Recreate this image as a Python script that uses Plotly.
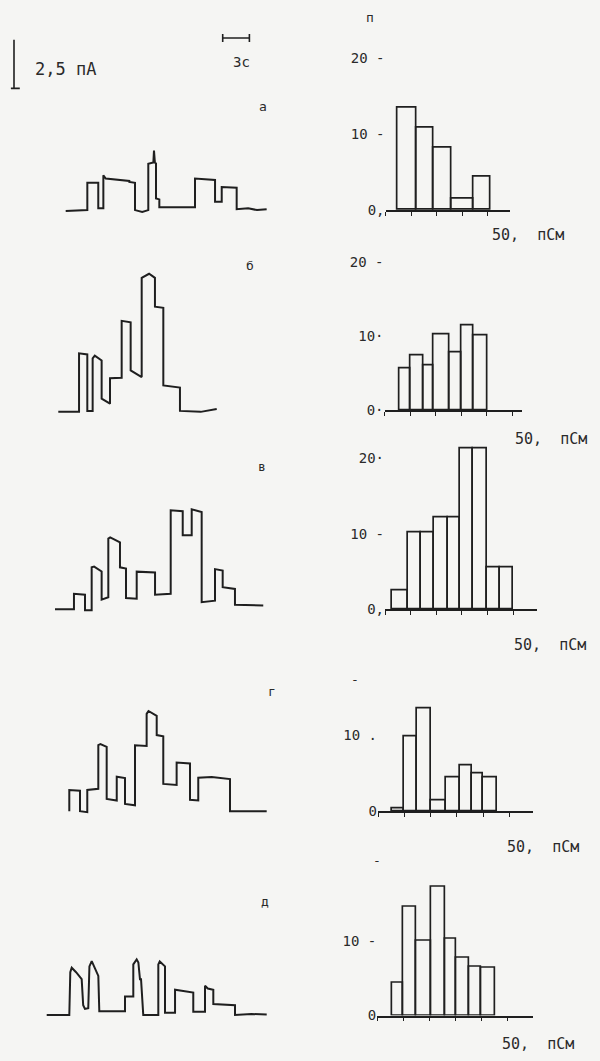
import numpy as np
import plotly.graph_objects as go

W, H = 600, 1061
PX_PER_S = 8.9      # trace time scale (px per second)
PX_PER_PA = 19.6    # trace current scale (px per pA)
LINE = "#1f1f1f"
TXT = "#2a2a2a"
FONT = "DejaVu Sans Mono"

# ---------------- data: single-channel current traces (time s, current pA) -------------
A_T = [0, 2.43, 2.43, 3.66, 3.66, 4.23, 4.23, 4.5, 7.15, 7.15, 7.79, 7.79, 8.6, 9.28, 9.28,
       9.85, 9.92, 10.02, 10.15, 10.15, 10.52, 10.52, 14.53, 14.53, 16.78, 16.78, 17.53, 17.53,
       19.21, 19.21, 20.5, 21.5, 22.58]
A_I = [-0.05, 0, 1.41, 1.41, 0.1, 0.1, 1.79, 1.62, 1.5, 1.45, 1.40, 0.0, -0.1, 0, 2.38,
       2.45, 3.06, 2.45, 2.4, 0.6, 0.55, 0.15, 0.15, 1.62, 1.55, 0.43, 0.43, 1.19,
       1.15, 0.05, 0.1, 0.0, 0.05]

B_T = [0, 2.33, 2.33, 3.26, 3.26, 3.86, 3.86, 4.1, 4.87, 4.87, 5.81, 5.81, 7.12, 7.12, 8.13,
       8.13, 9.37, 9.37, 10.2, 10.86, 10.86, 11.8, 11.8, 13.67, 13.67, 16.0, 17.8]
B_I = [0.0, 0.0, 3.01, 2.95, 0.05, 0.05, 2.75, 2.89, 2.64, 0.68, 0.42, 1.73, 1.75, 4.68, 4.6,
       2.13, 1.79, 6.89, 7.1, 6.89, 5.41, 5.35, 1.36, 1.25, 0.05, 0.0, 0.15]

C_T = [0, 2.13, 2.13, 3.37, 3.37, 4.12, 4.12, 4.4, 5.24, 5.24, 5.99, 5.99, 6.2, 7.30, 7.30,
       7.98, 7.98, 9.18, 9.18, 11.24, 11.24, 13.0, 13.0, 14.35, 14.35, 15.36, 15.36, 16.48,
       16.48, 17.98, 17.98, 18.84, 18.84, 20.22, 20.22, 23.4]
C_I = [0, 0, 0.80, 0.75, -0.05, -0.05, 2.16, 2.2, 1.95, 0.5, 0.62, 3.64, 3.7, 3.45, 2.16,
       2.1, 0.58, 0.55, 1.94, 1.9, 0.75, 0.8, 5.09, 5.05, 3.81, 3.81, 5.14, 5.0,
       0.37, 0.45, 2.07, 2.0, 1.14, 1.05, 0.24, 0.2]

D_T = [0, 0, 1.2, 1.2, 2.02, 2.02, 3.26, 3.26, 3.5, 4.2, 4.2, 5.33, 5.33, 6.26, 6.26, 7.38,
       7.38, 8.69, 8.69, 8.9, 9.82, 9.82, 10.56, 10.56, 12.06, 12.06, 13.56, 13.56, 14.49,
       14.49, 16.0, 18.06, 18.06, 22.18]
D_I = [0.05, 1.14, 1.1, 0.05, 0.0, 1.14, 1.2, 3.45, 3.5, 3.35, 0.68, 0.6, 1.82, 1.75, 0.42,
       0.35, 3.44, 3.4, 5.05, 5.2, 4.95, 3.96, 3.9, 1.45, 1.4, 2.55, 2.5, 0.63, 0.6,
       1.77, 1.8, 1.7, 0.05, 0.05]

E_T = [0, 2.54, 2.65, 2.81, 3.3, 3.93, 4.1, 4.3, 4.67, 4.8, 5.06, 5.5, 5.8, 5.91, 8.8, 8.8,
       9.73, 9.73, 10.11, 10.3, 10.48, 10.6, 10.85, 12.54, 12.54, 12.7, 13.29, 13.29, 14.42,
       14.42, 16.47, 16.47, 17.79, 17.79, 18.1, 18.72, 18.72, 21.16, 21.16, 23.0, 24.72]
E_I = [0.0, 0.0, 2.2, 2.43, 2.2, 1.84, 0.5, 0.31, 0.35, 2.5, 2.77, 2.35, 2.01, 0.19, 0.19, 0.95,
       0.95, 2.6, 2.86, 2.7, 1.84, 1.84, 0.0, 0.0, 2.6, 2.75, 2.5, 0.12, 0.12,
       1.3, 1.15, 0.16, 0.16, 1.5, 1.36, 1.3, 0.56, 0.5, 0.0, 0.05, 0.02]

# ---------------- data: conductance histograms (bin edges pS, counts n) -----------------
HA_EDGES = [4.5, 12.3, 18.9, 25.6, 34.2, 41.2]
HA_N = [13.5, 10.9, 8.2, 1.5, 4.4]
HB_EDGES = [5.7, 10.0, 15.2, 19.3, 25.2, 30.2, 34.7, 40.3]
HB_N = [5.6, 7.4, 6.1, 10.3, 7.8, 11.5, 10.1]
HC_EDGES = [2.6, 9.1, 14.1, 19.1, 24.7, 29.3, 34.5, 39.7, 44.9, 50.1]
HC_N = [2.5, 10.2, 10.2, 12.2, 12.2, 21.4, 21.4, 5.5, 5.5]
HD_EDGES = [5.2, 9.9, 14.7, 20.1, 25.9, 31.2, 35.6, 40.0, 45.1]
HD_N = [0.4, 9.8, 13.6, 1.4, 4.5, 6.0, 5.0, 4.4]
HE_EDGES = [5.9, 9.8, 14.9, 20.6, 26.0, 30.2, 35.2, 40.0, 45.1]
HE_N = [4.4, 14.6, 10.1, 17.3, 10.3, 7.8, 6.6, 6.4]

X_TICKS = [0, 10, 20, 30, 40, 50]
SCALE_PA = 2.5
SCALE_S = 3

PANELS = ["а", "б", "в", "г", "д"]


def xdom(p0, p1):
    return [p0 / W, p1 / W]


def ydom(top, bottom):
    return [1 - bottom / H, 1 - top / H]


fig = go.Figure()
layout = {}

# ---------------- traces ----------------
traces = [(A_T, A_I), (B_T, B_I), (C_T, C_I), (D_T, D_I), (E_T, E_I)]
# (start px, baseline px, top px, bottom px)
trace_geo = [(65.7, 211.7, 110, 232), (58.3, 415, 260, 432), (55, 614, 500, 632),
             (69.3, 818.3, 700, 836), (46.7, 1022.7, 940, 1040)]
for i, ((t, cur), (sx, base, top, bot)) in enumerate(zip(traces, trace_geo)):
    n = i + 1
    fig.add_trace(go.Scatter(x=t, y=cur, mode="lines", xaxis=f"x{n}", yaxis=f"y{n}",
                             line=dict(color=LINE, width=2.0), showlegend=False,
                             hoverinfo="skip", cliponaxis=False))
    layout[f"xaxis{n}"] = dict(domain=xdom(0, 300), range=[-sx / PX_PER_S, (300 - sx) / PX_PER_S],
                               visible=False, anchor=f"y{n}")
    layout[f"yaxis{n}"] = dict(domain=ydom(top, bot),
                               range=[(base - bot) / PX_PER_PA, (base - top) / PX_PER_PA],
                               visible=False, anchor=f"x{n}")

# ---------------- histograms ----------------
hists = [(HA_EDGES, HA_N), (HB_EDGES, HB_N), (HC_EDGES, HC_N), (HD_EDGES, HD_N), (HE_EDGES, HE_N)]
# (origin px, axis end px, px per pS, baseline px, px per count)
hist_geo = [(385.5, 510, 2.56, 211.7, 7.67), (384.5, 522, 2.56, 413.3, 7.45),
            (385, 537, 2.56, 614, 7.6), (378, 533, 2.63, 817.3, 7.63),
            (377.2, 533, 2.61, 1023.3, 7.5)]
tick_texts = [["0,", "10 -", "20 -"], ["0·", "10·", "20 -"], ["0,", "10 -", "20·"],
              ["0", "10 ."], ["0", "10 -"]]
for i, ((edges, counts), (ox, ex, pxs, base, pxn), tt) in enumerate(zip(hists, hist_geo, tick_texts)):
    n = i + 6
    e = np.array(edges)
    centers = (e[:-1] + e[1:]) / 2
    widths = e[1:] - e[:-1]
    fig.add_trace(go.Bar(x=centers, y=counts, width=widths, xaxis=f"x{n}", yaxis=f"y{n}",
                         marker=dict(color="rgba(255,255,255,0)", line=dict(color=LINE, width=1.7)),
                         showlegend=False, hoverinfo="skip"))
    top = base - 22 * pxn
    layout[f"xaxis{n}"] = dict(domain=xdom(ox, ex), range=[0, (ex - ox) / pxs], anchor=f"y{n}",
                               showline=True, linecolor=LINE, linewidth=1.7, ticks="outside",
                               ticklen=4, tickwidth=1.3, tickcolor=LINE, tickvals=X_TICKS,
                               showticklabels=False, showgrid=False, zeroline=False)
    layout[f"yaxis{n}"] = dict(domain=ydom(top, base), range=[0, 22], anchor=f"x{n}",
                               showline=False, showgrid=False, zeroline=False, ticks="",
                               tickvals=[0, 10, 20][:len(tt)], ticktext=tt,
                               tickfont=dict(family=FONT, size=14, color=TXT))

# ---------------- scale bars ----------------
n = 11
bar_t = 14 / PX_PER_S
bar_i0 = (100 - 89) / PX_PER_PA
tb_t0 = 222.7 / PX_PER_S
tb_i = (100 - 38.3) / PX_PER_PA
fig.add_trace(go.Scatter(x=[bar_t, bar_t, None, bar_t - 0.35, bar_t + 0.65, None,
                            tb_t0, tb_t0 + SCALE_S, None, tb_t0, tb_t0, None,
                            tb_t0 + SCALE_S, tb_t0 + SCALE_S],
                         y=[bar_i0, bar_i0 + SCALE_PA, None, bar_i0, bar_i0, None,
                            tb_i, tb_i, None, tb_i - 0.2, tb_i + 0.2, None,
                            tb_i - 0.2, tb_i + 0.2],
                         mode="lines", xaxis=f"x{n}", yaxis=f"y{n}", line=dict(color=LINE, width=1.6),
                         showlegend=False, hoverinfo="skip", cliponaxis=False))
layout[f"xaxis{n}"] = dict(domain=xdom(0, 300), range=[0, 300 / PX_PER_S], visible=False, anchor=f"y{n}")
layout[f"yaxis{n}"] = dict(domain=ydom(0, 100), range=[0, 100 / PX_PER_PA], visible=False, anchor=f"x{n}")

# ---------------- text ----------------
ann = []


def txt(s, x, y, size=14, anchor="center"):
    ann.append(dict(text=s, x=x / W, y=1 - y / H, xref="paper", yref="paper", showarrow=False,
                    xanchor=anchor, yanchor="middle", font=dict(family=FONT, size=size, color=TXT)))


txt("2,5 пА", 33, 70, 17, "left")
txt("3с", 241, 62, 14)
txt("п", 370, 18, 13)
for p, (x, y) in zip(PANELS, [(263, 107), (250, 268), (262, 470), (272, 697), (265, 908)]):
    txt(p, x, y, 13)
for (x, y) in [(528, 237), (551, 442), (550, 650), (543, 853), (538, 1052)]:
    txt("50,  пСм", x, y, 15)
txt("-", 355, 685, 13)
txt("-", 377, 867, 13)

fig.update_layout(width=W, height=H, margin=dict(l=0, r=0, t=0, b=0),
                  paper_bgcolor="#f5f5f3", plot_bgcolor="rgba(0,0,0,0)",
                  annotations=ann, bargap=0, **layout)

fig.write_html("out.html")
